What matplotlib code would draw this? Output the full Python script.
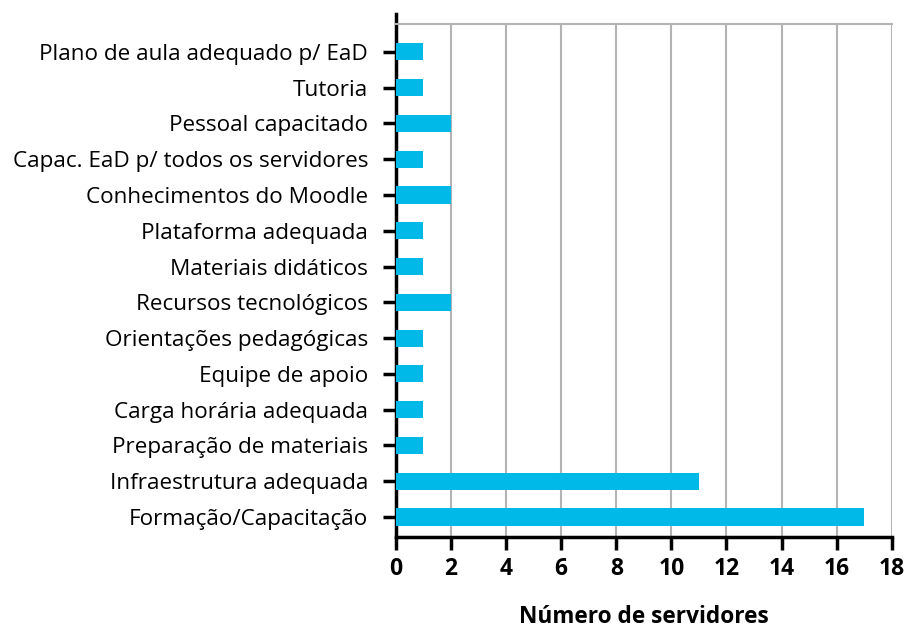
import matplotlib.pyplot as plt

# categories, bottom to top as drawn
categorias = [
    'Formação/Capacitação',
    'Infraestrutura adequada',
    'Preparação de materiais',
    'Carga horária adequada',
    'Equipe de apoio',
    'Orientações pedagógicas',
    'Recursos tecnológicos',
    'Materiais didáticos',
    'Plataforma adequada',
    'Conhecimentos do Moodle',
    'Capac. EaD p/ todos os servidores',
    'Pessoal capacitado',
    'Tutoria',
    'Plano de aula adequado p/ EaD',
]
servidores = [17, 11, 1, 1, 1, 1, 2, 1, 1, 2, 1, 2, 1, 1]
xticks = [0, 2, 4, 6, 8, 10, 12, 14, 16, 18]

plt.rcParams['font.family'] = ['Open Sans', 'DejaVu Sans']

fig = plt.figure(figsize=(9.1, 6.3), dpi=100)
ax = fig.add_axes([0.435, 0.1476, 0.545, 0.8143])

pos = list(range(len(categorias)))
ax.barh(pos, servidores, height=0.48, color='#00B9E8', zorder=3)

ax.set_xlim(0, 18)
ax.set_ylim(-0.56, 13.78)
ax.set_xticks(xticks)
ax.set_yticks(pos)
ax.set_yticklabels(categorias, fontsize=16.2)
ax.set_xticklabels([str(t) for t in xticks], fontsize=16.5, fontweight='bold')

ax.grid(axis='x', color='#b3b3b3', linewidth=1.5, zorder=0)
ax.set_axisbelow(True)

for s in ['left', 'bottom']:
    ax.spines[s].set_linewidth(2.5)
    ax.spines[s].set_color('black')
ax.spines['left'].set_bounds(-0.56, 14.06)
ax.spines['right'].set_visible(False)
ax.spines['top'].set_color('#b3b3b3')
ax.spines['top'].set_linewidth(1.5)

ax.tick_params(axis='both', direction='out', length=9.5, width=2.5, colors='black')
ax.tick_params(axis='y', pad=10.5)
ax.tick_params(axis='x', pad=5)

ax.set_xlabel('Número de servidores', fontsize=16.3, fontweight='bold', labelpad=17)

fig.savefig('out.png', dpi=100)
